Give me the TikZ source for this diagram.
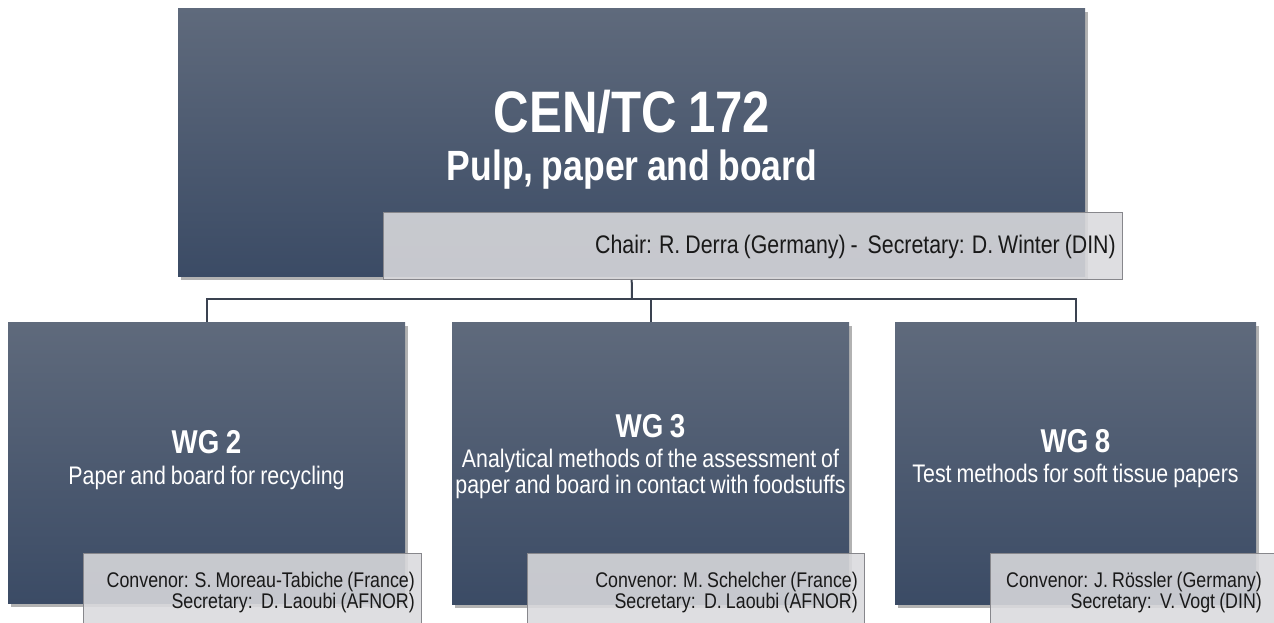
\documentclass[tikz,border=0pt]{standalone}
\usepackage{fontspec}
\setmainfont{Liberation Sans}[FakeStretch=0.84,WordSpace=0.84]
\usetikzlibrary{shadows}
\definecolor{boxtop}{RGB}{95,106,124}
\definecolor{boxbot}{RGB}{59,75,101}
\definecolor{labfill}{RGB}{218,218,221}
\definecolor{labdraw}{RGB}{135,135,140}
\definecolor{connc}{RGB}{58,66,80}
\definecolor{labtext}{RGB}{25,25,25}
\tikzset{
  unitbox/.style={rectangle, inner sep=0pt, anchor=north west, top color=boxtop, bottom color=boxbot, draw=none,
    drop shadow={shadow xshift=3pt, shadow yshift=-4pt, opacity=0.3, fill=black}},
  labelbox/.style={rectangle, inner sep=0pt, anchor=north west, fill=labfill, fill opacity=0.88, draw=labdraw, line width=0.8pt},
  conn/.style={draw=connc, line width=2pt},
  wtext/.style={text=white, inner sep=0pt, anchor=base},
  ktext/.style={text=labtext, inner sep=0pt, anchor=base east},
  bigf/.style={font=\fontsize{58.5}{61}\selectfont\bfseries},
  midf/.style={font=\fontsize{42.3}{46}\selectfont\bfseries},
  wgf/.style={font=\fontsize{33}{36}\selectfont\bfseries},
  subf/.style={font=\fontsize{25.4}{27}\selectfont},
  chairf/.style={font=\fontsize{25.4}{28}\selectfont},
  labf/.style={font=\fontsize{21.2}{22}\selectfont},
}
\begin{document}
\begin{tikzpicture}[x=1pt,y=-1pt]
\useasboundingbox (0,0) rectangle (1274,623);
\clip (0,0) rectangle (1274,623);

% top committee box
\node[unitbox, minimum width=907pt, minimum height=268pt] (tc) at (178,8) {};
\node[wtext, bigf] (tct) at (632,133) {CEN/TC 172};
\node[wtext, midf] (tcs) at (632,180) {Pulp, paper and board};
\node[labelbox, minimum width=739pt, minimum height=67pt] (chair) at (383,212) {};
\node[ktext, chairf] (chairt) at (1116,253) {Chair: R. Derra (Germany) -\ \ Secretary: D. Winter (DIN)};

% working group boxes
\node[unitbox, minimum width=397pt, minimum height=281pt] (wg2) at (8,322) {};
\node[unitbox, minimum width=397pt, minimum height=282pt] (wg3) at (452,322) {};
\node[unitbox, minimum width=361pt, minimum height=282pt] (wg8) at (895,322) {};

% connectors
\coordinate (bus) at (632,299);
\draw[conn] (chair.south -| tc.south) -- (bus);
\draw[conn] (wg2.north) |- (bus) -- (wg8.north |- bus) -- (wg8.north);
\draw[conn] (wg3.north) -- (wg3.north |- bus);

% WG texts
\node[wtext, wgf] (wg2t) at (206.5,453) {WG 2};
\node[wtext, subf] (wg2s) at (206.5,484) {Paper and board for recycling};
\node[wtext, wgf] (wg3t) at (650.5,437) {WG 3};
\node[wtext, subf] (wg3s) at (650.5,467) {Analytical methods of the assessment of};
\node[wtext, subf] (wg3u) at (650.5,493) {paper and board in contact with foodstuffs};
\node[wtext, wgf] (wg8t) at (1075.5,452) {WG 8};
\node[wtext, subf] (wg8s) at (1075.5,482) {Test methods for soft tissue papers};

% label boxes
\node[labelbox, minimum width=338pt, minimum height=90pt] (lab2) at (83,553) {};
\node[labelbox, minimum width=337pt, minimum height=90pt] (lab3) at (527,553) {};
\node[labelbox, minimum width=320pt, minimum height=90pt] (lab8) at (990,553) {};
\node[ktext, labf] (lab2a) at (415,587) {Convenor: S. Moreau-Tabiche (France)};
\node[ktext, labf] (lab2b) at (415,608) {Secretary:\ \ D. Laoubi (AFNOR)};
\node[ktext, labf] (lab3a) at (858,587) {Convenor: M. Schelcher (France)};
\node[ktext, labf] (lab3b) at (858,608) {Secretary:\ \ D. Laoubi (AFNOR)};
\node[ktext, labf] (lab8a) at (1262,587) {Convenor: J. Rössler (Germany)};
\node[ktext, labf] (lab8b) at (1262,608) {Secretary:\ \ V. Vogt (DIN)};
\end{tikzpicture}
\end{document}
